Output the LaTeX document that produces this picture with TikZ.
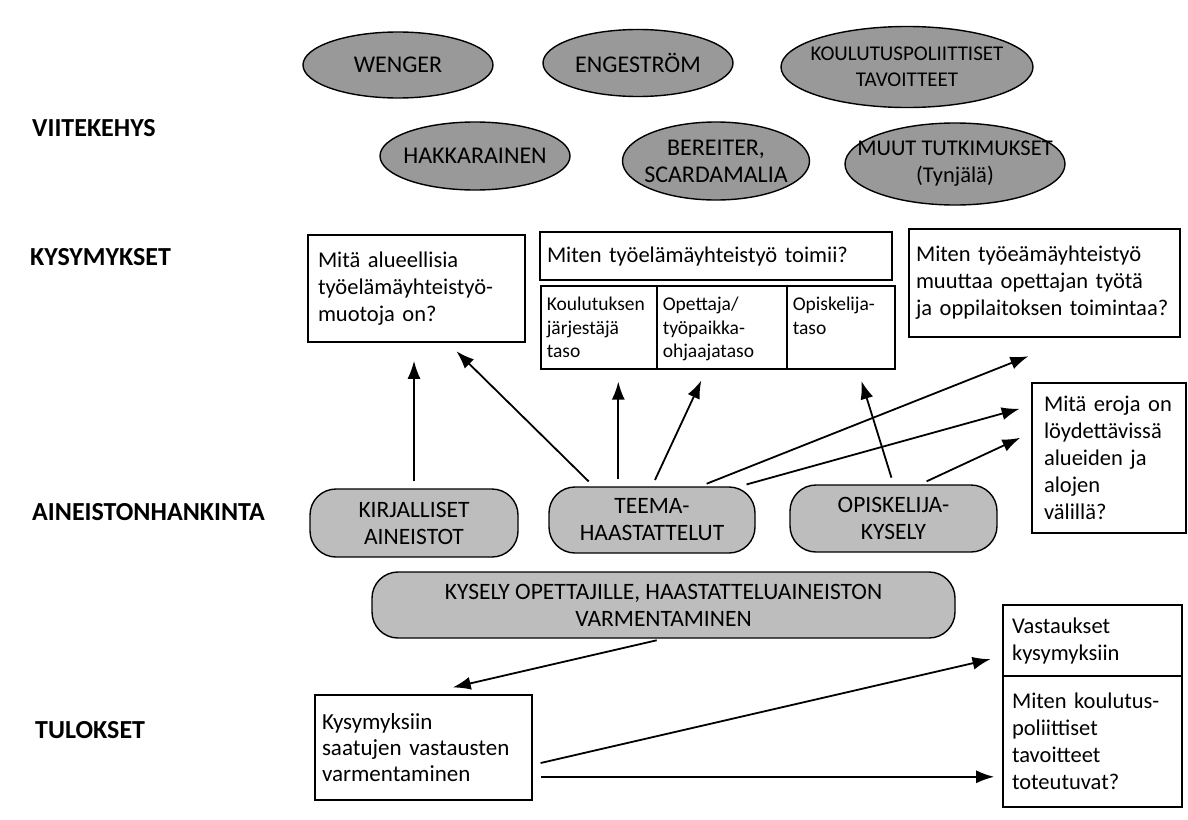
\documentclass[tikz,border=0pt]{standalone}
\usepackage{fontspec}
\setmainfont{Carlito}
\usetikzlibrary{arrows.meta,positioning,shapes.geometric}

\definecolor{ellgray}{gray}{0.6}
\definecolor{pillgray}{gray}{0.74}

\begin{document}
\begin{tikzpicture}[x=1pt,y=-1pt,>={Latex[length=18pt,width=13pt]},
  head/.style={anchor=west,inner sep=0pt,font=\fontsize{26}{30}\selectfont\bfseries},
  frame/.style={ellipse,draw,line width=1.4pt,fill=ellgray,inner xsep=-30pt,inner ysep=-10pt,align=center,font=\fontsize{24}{27}\selectfont},
  pill/.style={rectangle,rounded corners=26pt,draw,line width=1.4pt,fill=pillgray,inner sep=0pt,align=center,font=\fontsize{23.5}{27}\selectfont},
  qbox/.style={rectangle,draw,line width=1.6pt,inner xsep=10pt,inner ysep=0pt,align=left,font=\fontsize{22.5}{27}\selectfont},
  tbox/.style={rectangle,draw,line width=1.6pt,anchor=north west,inner xsep=6pt,inner ysep=12pt,align=left,text height=13pt,text depth=46pt,font=\fontsize{19.5}{23.5}\selectfont},
  arr/.style={->,line width=1.8pt,shorten <=7pt,shorten >=12pt}]
  \useasboundingbox (0,0) rectangle (1188,819);

  \node[head] (hframe) at (32,128) {VIITEKEHYS};
  \node[head] (hquest) at (30,257) {KYSYMYKSET};
  \node[head] (hdata) at (32,512) {AINEISTONHANKINTA};
  \node[head] (hres) at (35,730) {TULOKSET};

  \node[frame,minimum width=190pt,minimum height=66pt] (wenger) at (398,65) {WENGER};
  \node[frame,minimum width=190pt,minimum height=67pt] (engestrom) at (638,63) {ENGESTRÖM};
  \node[frame,minimum width=252pt,minimum height=81pt,font=\fontsize{21}{26}\selectfont] (policy) at (907,67) {KOULUTUSPOLIITTISET\\TAVOITTEET};
  \node[frame,minimum width=190pt,minimum height=68pt] (hakkarainen) at (475,156) {HAKKARAINEN};
  \node[frame,minimum width=187pt,minimum height=78pt] (bereiter) at (716,161) {BEREITER,\\SCARDAMALIA};
  \node[frame,minimum width=220pt,minimum height=82pt,font=\fontsize{22.5}{27}\selectfont] (other) at (955,164) {MUUT TUTKIMUKSET\\(Tynjälä)};

  \node[qbox,minimum width=217pt,minimum height=107pt,text width=197pt] (q1) at (416.5,288.5) {Mitä alueellisia\\työelämäyhteistyö-\\muotoja on?};
  \node[qbox,inner xsep=7pt,minimum width=352pt,minimum height=48pt,text width=338pt] (q2) at (716,256) {Miten työelämäyhteistyö toimii?};
  \node[tbox,minimum width=116pt,text width=104pt] (sub1) at (540,285) {Koulutuksen\\järjestäjä\\taso};
  \node[tbox,minimum width=130pt,text width=118pt] (sub2) at (656,285) {Opettaja/\\työpaikka-\\ohjaajataso};
  \node[tbox,minimum width=108pt,text width=96pt] (sub3) at (786,285) {Opiskelija-\\taso};
  \node[qbox,inner xsep=7pt,minimum width=271pt,minimum height=108pt,text width=257pt] (q3) at (1044.5,283) {Miten työeämäyhteistyö\\muuttaa opettajan työtä\\ja oppilaitoksen toimintaa?};
  \node[qbox,inner xsep=12pt,minimum width=154pt,minimum height=150pt,text width=130pt] (q4) at (1109,458) {Mitä eroja on\\löydettävissä\\alueiden ja\\alojen\\välillä?};

  \node[pill,minimum width=208pt,minimum height=68pt] (kirj) at (414,523) {KIRJALLISET\\AINEISTOT};
  \node[pill,minimum width=206pt,minimum height=66pt] (teema) at (652,520) {TEEMA-\\HAASTATTELUT};
  \node[pill,minimum width=207pt,minimum height=67pt] (opis) at (893.5,518.5) {OPISKELIJA-\\KYSELY};
  \node[pill,minimum width=583pt,minimum height=66pt] (kysely) at (663.5,605) {KYSELY OPETTAJILLE, HAASTATTELUAINEISTON\\VARMENTAMINEN};

  \node[qbox,inner xsep=7pt,minimum width=217pt,minimum height=105pt,text width=203pt,font=\fontsize{23}{26}\selectfont] (res) at (423.5,747.5) {Kysymyksiin\\saatujen vastausten\\varmentaminen};
  \node[qbox,inner xsep=9pt,minimum width=179pt,minimum height=71pt,text width=161pt] (ans) at (1092.5,640.5) {Vastaukset\\kysymyksiin};
  \node[qbox,inner xsep=9pt,minimum width=179pt,minimum height=131pt,text width=161pt] (goal) at (1092.5,741.5) {Miten koulutus-\\poliittiset\\tavoitteet\\toteutuvat?};

  \draw[arr,shorten >=18pt] (kirj.north) -- (kirj.north |- q1.south);
  \draw[arr] (teema.150) -- (q1.-60);
  \draw[arr] (teema.135) -- (teema.135 |- sub1.south);
  \draw[arr] (teema.north) -- (sub2.-110);
  \draw[arr,shorten >=50pt] (teema.35) -- (q3.-61);
  \draw[arr] (teema.21) -- (q4.146);
  \draw[arr] (opis.north) -- (sub3.-68);
  \draw[arr] (opis.52) -- (q4.162);
  \draw[arr,shorten >=30pt] (kysely.south) -- (res.north);
  \draw[arr,shorten <=8pt] (res.-9) -- (ans.-170);
  \draw[arr,shorten <=8pt,shorten >=8pt] (res.-15) -- (res.-15 -| goal.west);
\end{tikzpicture}
\end{document}
